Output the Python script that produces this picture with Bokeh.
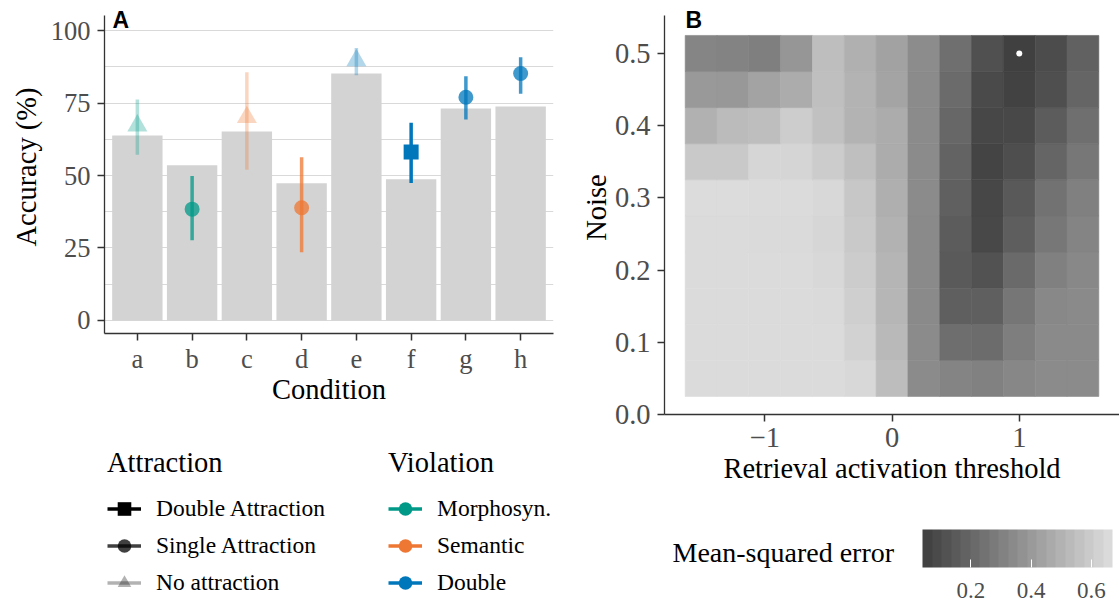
import numpy as np
from bokeh.plotting import figure
from bokeh.models import (FactorRange, Range1d, FixedTicker, ColumnDataSource, Legend, LegendItem,
                          ColorBar, LinearColorMapper, Label, PrintfTickFormatter)
from bokeh.layouts import row, column
from bokeh.embed import file_html
from bokeh.resources import INLINE

# ---------------- data: panel A ----------------
conditions = ["a", "b", "c", "d", "e", "f", "g", "h"]
bar_accuracy = [63.8, 53.5, 65.2, 47.3, 85.2, 48.7, 73.1, 73.8]
point_accuracy = [67.2, 38.4, 70.1, 38.9, 89.7, 58.1, 77.0, 85.2]
ci_lower = [57.2, 27.7, 52.0, 23.5, 84.6, 47.4, 69.3, 78.2]
ci_upper = [76.2, 49.8, 85.6, 56.3, 94.0, 68.2, 84.2, 90.8]
attraction = ["No attraction", "Single Attraction", "No attraction", "Single Attraction",
              "No attraction", "Double Attraction", "Single Attraction", "Single Attraction"]
violation = ["Morphosyn.", "Morphosyn.", "Semantic", "Semantic",
             "Double", "Double", "Double", "Double"]
attraction_levels = ["Double Attraction", "Single Attraction", "No attraction"]
violation_levels = ["Morphosyn.", "Semantic", "Double"]

# ---------------- data: panel B ----------------
thresholds = [-1.5, -1.25, -1.0, -0.75, -0.5, -0.25, 0.0, 0.25, 0.5, 0.75, 1.0, 1.25, 1.5]
noise_levels = [0.05, 0.10, 0.15, 0.20, 0.25, 0.30, 0.35, 0.40, 0.45, 0.50]
mse = [
    [0.666, 0.666, 0.666, 0.666, 0.666, 0.654, 0.545, 0.343, 0.315, 0.302, 0.327, 0.343, 0.343],
    [0.666, 0.666, 0.666, 0.666, 0.666, 0.630, 0.525, 0.343, 0.226, 0.218, 0.290, 0.339, 0.339],
    [0.666, 0.666, 0.666, 0.666, 0.658, 0.618, 0.517, 0.339, 0.165, 0.165, 0.258, 0.331, 0.339],
    [0.666, 0.666, 0.666, 0.666, 0.654, 0.605, 0.513, 0.339, 0.145, 0.113, 0.210, 0.298, 0.331],
    [0.666, 0.666, 0.662, 0.658, 0.646, 0.593, 0.500, 0.339, 0.153, 0.072, 0.161, 0.262, 0.315],
    [0.670, 0.670, 0.666, 0.666, 0.654, 0.585, 0.488, 0.343, 0.169, 0.068, 0.141, 0.242, 0.298],
    [0.593, 0.593, 0.646, 0.642, 0.605, 0.553, 0.476, 0.343, 0.181, 0.056, 0.097, 0.189, 0.262],
    [0.496, 0.537, 0.549, 0.609, 0.561, 0.504, 0.476, 0.343, 0.198, 0.068, 0.072, 0.153, 0.230],
    [0.399, 0.395, 0.440, 0.476, 0.553, 0.504, 0.444, 0.343, 0.214, 0.080, 0.048, 0.101, 0.189],
    [0.319, 0.311, 0.294, 0.387, 0.549, 0.492, 0.436, 0.347, 0.230, 0.105, 0.040, 0.088, 0.173],
]
best_threshold = [1.0]
best_noise = [0.5]
mse_ticks = [0.2, 0.4, 0.6]

# ---------------- style ----------------
SERIF = "Liberation Serif"
SANS = "Liberation Sans"
TICK_COLOR = "#4D4D4D"
AXIS_COLOR = "#333333"
VIOL_COLOR = {"Morphosyn.": "#009988", "Semantic": "#EE7733", "Double": "#0077BB"}
ATTR_ALPHA = {"Double Attraction": 1.0, "Single Attraction": 0.75, "No attraction": 0.3}
ATTR_MARKER = {"Double Attraction": "square", "Single Attraction": "circle", "No attraction": "triangle"}
ATTR_SIZE = {"Double Attraction": 15, "Single Attraction": 15, "No attraction": 20}


def style_axis(ax, tick_size, label_standoff, title_standoff, title_size="28.5px"):
    ax.axis_line_color = AXIS_COLOR
    ax.axis_line_width = 1.3
    ax.major_tick_line_color = AXIS_COLOR
    ax.major_tick_line_width = 1.5
    ax.major_tick_out = 7
    ax.major_tick_in = 0
    ax.minor_tick_line_color = None
    ax.major_label_text_font = SERIF
    ax.major_label_text_font_size = tick_size
    ax.major_label_text_color = TICK_COLOR
    ax.axis_label_text_font = SERIF
    ax.axis_label_text_font_size = title_size
    ax.axis_label_text_font_style = "normal"
    ax.axis_label_text_color = "black"
    ax.major_label_standoff = label_standoff
    ax.axis_label_standoff = title_standoff


# ---------------- panel A ----------------
# frame reaches the top of the figure; the visible y axis line is bounded to the data range
pA = figure(width=560, height=440,
            x_range=FactorRange(factors=conditions, range_padding=0.1, range_padding_units="absolute"),
            y_range=Range1d(-4.5, 110.37),
            output_backend="svg", toolbar_location=None,
            min_border_left=104, min_border_right=7, min_border_top=0, min_border_bottom=107)
pA.outline_line_color = None
pA.vbar(x=conditions, top=bar_accuracy, width=0.92, fill_color="#D3D3D3", line_color=None)

srcA = ColumnDataSource(dict(
    cond=conditions, acc=point_accuracy, lower=ci_lower, upper=ci_upper,
    color=[VIOL_COLOR[v] for v in violation],
    alpha=[ATTR_ALPHA[a] for a in attraction],
    marker=[ATTR_MARKER[a] for a in attraction],
    size=[ATTR_SIZE[a] for a in attraction],
))
pA.segment(x0="cond", y0="lower", x1="cond", y1="upper", line_color="color",
           line_alpha="alpha", line_width=3.5, source=srcA)
pA.scatter(x="cond", y="acc", marker="marker", size="size", fill_color="color",
           fill_alpha="alpha", line_color=None, source=srcA)

pA.yaxis.ticker = FixedTicker(ticks=[0, 25, 50, 75, 100], minor_ticks=[12.5, 37.5, 62.5, 87.5])
pA.yaxis.bounds = (-4.5, 105.2)
pA.ygrid.grid_line_color = "#D9D9D9"
pA.ygrid.minor_grid_line_color = "#D9D9D9"
pA.ygrid.grid_line_width = 1.2
pA.ygrid.minor_grid_line_width = 1.2
pA.xgrid.grid_line_color = None
pA.xaxis.axis_label = "Condition"
pA.yaxis.axis_label = "Accuracy (%)"
style_axis(pA.xaxis[0], "26.5px", 3, -3)
style_axis(pA.yaxis[0], "26.5px", 7, 6)
pA.add_layout(Label(x=8, y=314, x_units="screen", y_units="screen", text="A",
                    text_font=SANS, text_font_style="bold", text_font_size="23px",
                    text_color="black", text_baseline="alphabetic"))

# ---------------- legends for panel A ----------------
pL = figure(width=560, height=163, x_range=Range1d(0, 1), y_range=Range1d(0, 1),
            output_backend="svg", toolbar_location=None,
            min_border_left=104, min_border_right=0, min_border_top=0, min_border_bottom=0,
            x_axis_location=None, y_axis_location=None)
pL.outline_line_color = None
pL.grid.visible = False

nan_a = [float("nan")] * len(attraction_levels)
srcLa = ColumnDataSource(dict(
    x=nan_a, y=nan_a,
    color=["black"] * len(attraction_levels),
    alpha=[ATTR_ALPHA[a] for a in attraction_levels],
    marker=[ATTR_MARKER[a] for a in attraction_levels],
))
segLa = pL.segment(x0="x", y0="y", x1="x", y1="y", line_color="color", line_alpha="alpha",
                   line_width=3.5, source=srcLa)
scLa = pL.scatter(x="x", y="y", marker="marker", fill_color="color", fill_alpha="alpha",
                  line_color=None, size=14, source=srcLa)

nan_v = [float("nan")] * len(violation_levels)
srcLv = ColumnDataSource(dict(
    x=nan_v, y=nan_v,
    color=[VIOL_COLOR[v] for v in violation_levels],
))
segLv = pL.segment(x0="x", y0="y", x1="x", y1="y", line_color="color", line_width=3.5, source=srcLv)
scLv = pL.scatter(x="x", y="y", marker="circle", fill_color="color", line_color=None,
                  size=14, source=srcLv)


def make_legend(title, levels, renderers, loc):
    items = [LegendItem(label=lev, renderers=renderers, index=i) for i, lev in enumerate(levels)]
    return Legend(items=items, title=title, location=loc, orientation="vertical",
                  title_text_font=SERIF, title_text_font_size="28.5px", title_text_font_style="normal",
                  title_text_color="black", title_standoff=11,
                  label_text_font=SERIF, label_text_font_size="23.5px", label_text_color="black",
                  label_standoff=15, label_height=37, glyph_width=34, glyph_height=37,
                  spacing=0, padding=0, margin=0, border_line_color=None,
                  background_fill_alpha=0)


pL.add_layout(make_legend("Attraction", attraction_levels, [segLa, scLa], (3, 2)))
pL.add_layout(make_legend("Violation", violation_levels, [segLv, scLv], (284, 2)))

# ---------------- panel B ----------------
pB = figure(width=559, height=500, x_range=Range1d(-1.7875, 1.7875), y_range=Range1d(0, 0.5734),
            output_backend="svg", toolbar_location=None,
            min_border_left=104, min_border_right=0, min_border_top=0, min_border_bottom=86)
pB.outline_line_color = None
pB.grid.visible = False

gray_palette = ["#%02x%02x%02x" % (v, v, v) for v in np.round(np.linspace(64, 220, 256)).astype(int)]
mapper = LinearColorMapper(palette=gray_palette, low=0.04, high=0.67)
tx, ny, mv = [], [], []
for i, nz in enumerate(noise_levels):
    for j, th in enumerate(thresholds):
        tx.append(th)
        ny.append(nz)
        mv.append(mse[i][j])
srcB = ColumnDataSource(dict(threshold=tx, noise=ny, mse=mv))
pB.rect(x="threshold", y="noise", width=0.25, height=0.05, source=srcB,
        fill_color={"field": "mse", "transform": mapper},
        line_color={"field": "mse", "transform": mapper}, line_width=0.6)
pB.scatter(x=best_threshold, y=best_noise, size=6, fill_color="white", line_color=None)

pB.xaxis.ticker = FixedTicker(ticks=[-1, 0, 1])
pB.yaxis.ticker = FixedTicker(ticks=[0.0, 0.1, 0.2, 0.3, 0.4, 0.5])
pB.yaxis.formatter = PrintfTickFormatter(format="%.1f")
pB.yaxis.bounds = (0, 0.5526)
pB.xaxis.axis_label = "Retrieval activation threshold"
pB.yaxis.axis_label = "Noise"
style_axis(pB.xaxis[0], "28.5px", 6, 3)
style_axis(pB.yaxis[0], "28.5px", 7, 0)
pB.add_layout(Label(x=21, y=395, x_units="screen", y_units="screen", text="B",
                    text_font=SANS, text_font_style="bold", text_font_size="23px",
                    text_color="black", text_baseline="alphabetic"))

# ---------------- colour bar ----------------
pC = figure(width=559, height=103, x_range=Range1d(0, 1), y_range=Range1d(0, 1),
            output_backend="svg", toolbar_location=None,
            min_border_left=104, min_border_right=0, min_border_top=0, min_border_bottom=0,
            x_axis_location=None, y_axis_location=None)
pC.outline_line_color = None
pC.grid.visible = False
bar_palette = ["#%02x%02x%02x" % (v, v, v) for v in np.round(np.linspace(66, 218, 20)).astype(int)]
cb_mapper = LinearColorMapper(palette=bar_palette, low=0.04, high=0.67)
cb = ColorBar(color_mapper=cb_mapper, orientation="horizontal", location=(258, 3),
              width=190, height=38, padding=0, ticker=FixedTicker(ticks=mse_ticks),
              major_label_text_font=SERIF, major_label_text_font_size="23px",
              major_label_text_color=TICK_COLOR, label_standoff=15,
              major_tick_line_color="white", major_tick_in=8, major_tick_out=0,
              minor_tick_line_color=None, bar_line_color=None, border_line_color=None,
              background_fill_alpha=0)
pC.add_layout(cb)
pC.add_layout(Label(x=8, y=51, x_units="screen", y_units="screen", text="Mean-squared error",
                    text_font=SERIF, text_font_size="28px", text_color="black",
                    text_baseline="alphabetic"))

layout = row(column(pA, row(pL)), column(pB, row(pC)))
open("out.html", "w").write(file_html(layout, INLINE))
